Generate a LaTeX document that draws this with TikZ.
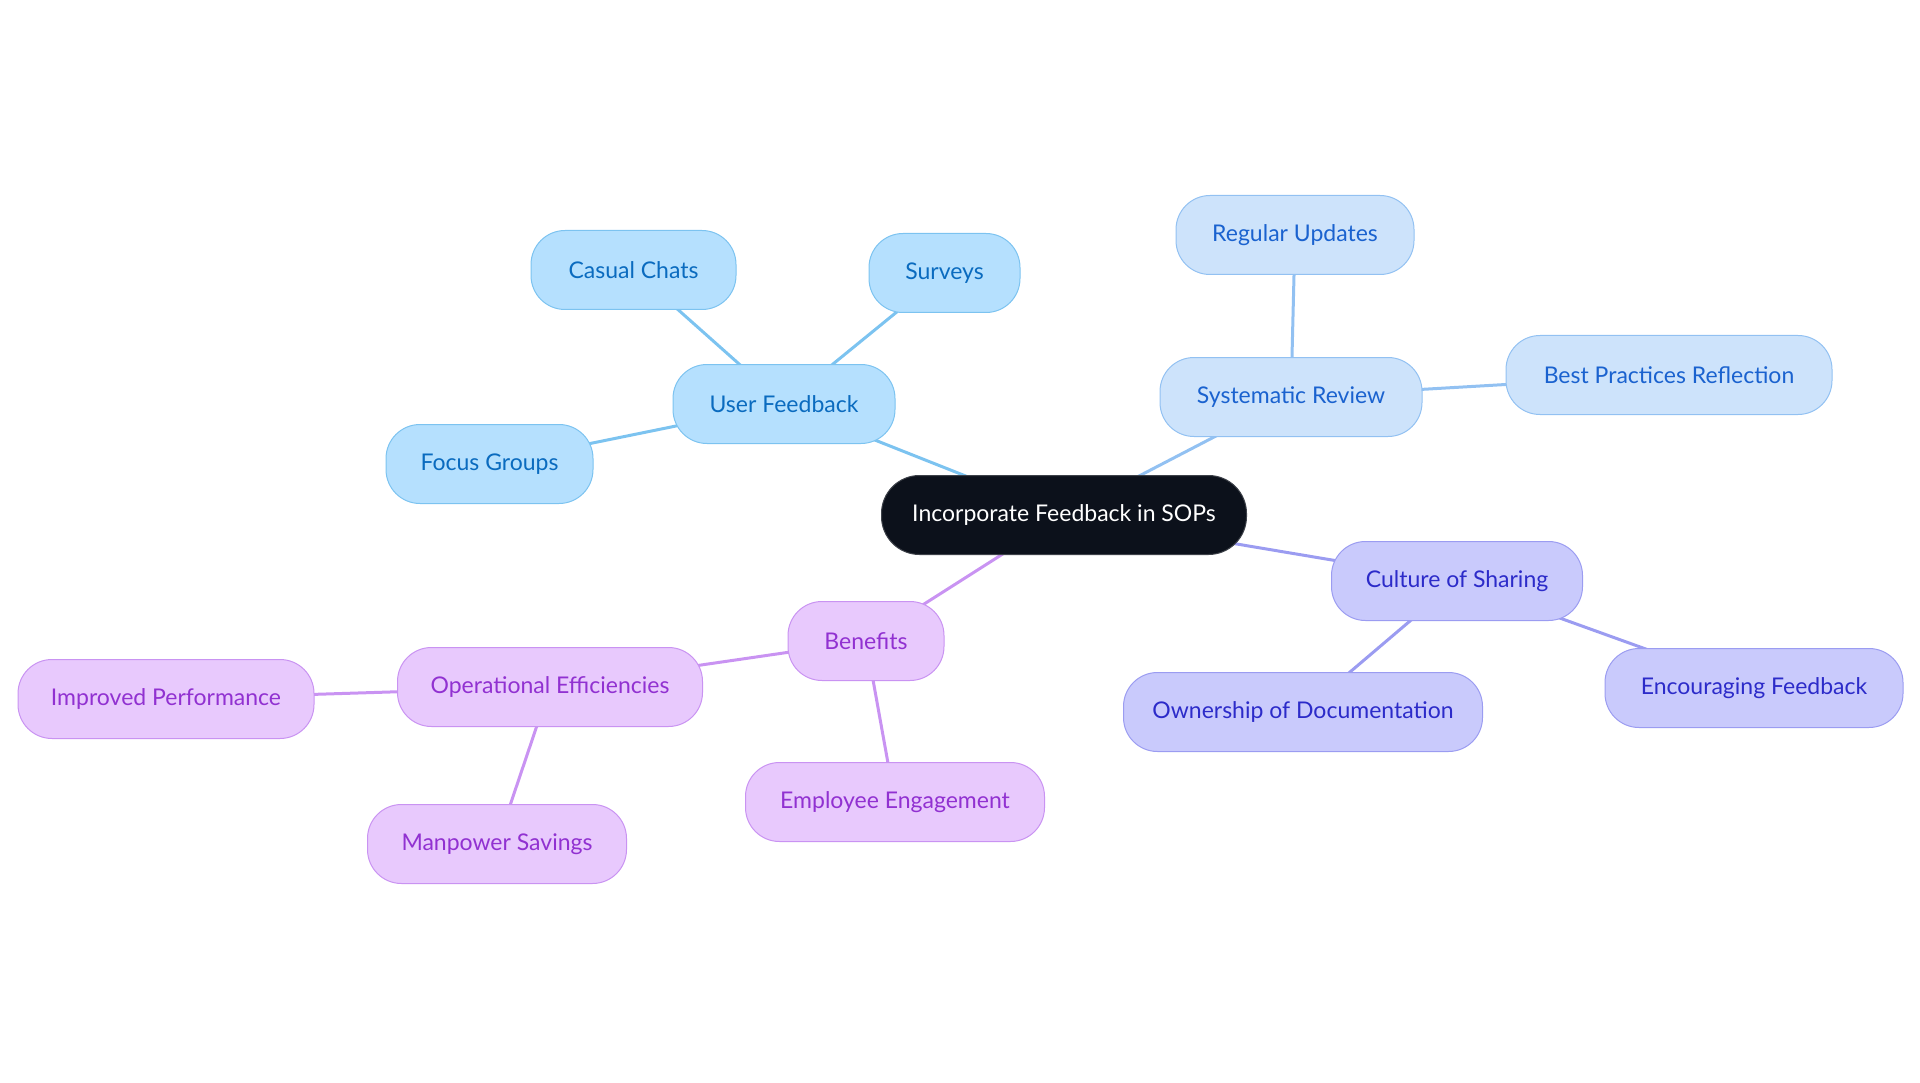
\documentclass[tikz,border=0pt]{standalone}
\usepackage{fontspec}
\setmainfont{Lato}
\usetikzlibrary{backgrounds}
\definecolor{ufFill}{HTML}{B5E0FE}
\definecolor{ufLine}{HTML}{7CC3F0}
\definecolor{ufText}{HTML}{0A6BBF}
\definecolor{srFill}{HTML}{CDE3FB}
\definecolor{srLine}{HTML}{92C1F2}
\definecolor{srText}{HTML}{1A62CF}
\definecolor{csFill}{HTML}{C9CAFC}
\definecolor{csLine}{HTML}{9B9CF1}
\definecolor{csText}{HTML}{2C2BC9}
\definecolor{bnFill}{HTML}{E8C9FD}
\definecolor{bnLine}{HTML}{C993F2}
\definecolor{bnText}{HTML}{9131D1}
\definecolor{rootFill}{HTML}{0C111B}
\tikzset{
  base/.style={rectangle, rounded corners=34pt, minimum height=79pt, line width=1pt,
    inner sep=0pt, font=\fontsize{23}{27}\selectfont},
  uf/.style={base, fill=ufFill, draw=ufLine, text=ufText},
  sr/.style={base, fill=srFill, draw=srLine, text=srText},
  cs/.style={base, fill=csFill, draw=csLine, text=csText},
  bn/.style={base, fill=bnFill, draw=bnLine, text=bnText},
  root/.style={base, rounded corners=38pt, fill=rootFill, draw=rootFill!80!white, text=white},
  ufedge/.style={draw=ufLine, line width=3pt},
  sredge/.style={draw=srLine, line width=3pt},
  csedge/.style={draw=csLine, line width=3pt},
  bnedge/.style={draw=bnLine, line width=3pt},
}
\begin{document}
\begin{tikzpicture}[x=1pt,y=-1pt]
\useasboundingbox (0,0) rectangle (1920,1083);
\node[root, minimum width=365pt] (root) at (1064,515) {Incorporate Feedback in SOPs};
\node[uf, minimum width=222pt] (ufb) at (784,404) {User Feedback};
\node[uf, minimum width=205pt] (chat) at (633.5,270) {Casual Chats};
\node[uf, minimum width=207pt] (focus) at (489.5,464) {Focus Groups};
\node[uf, minimum width=151pt] (surv) at (944.5,273) {Surveys};
\node[sr, minimum width=262pt] (sysr) at (1291,397) {Systematic Review};
\node[sr, minimum width=238pt] (regu) at (1295,235) {Regular Updates};
\node[sr, minimum width=326pt] (best) at (1669,375) {Best Practices Reflection};
\node[cs, minimum width=251pt] (cult) at (1457,581) {Culture of Sharing};
\node[cs, minimum width=359pt] (own) at (1303,712) {Ownership of Documentation};
\node[cs, minimum width=298pt] (enc) at (1754,688) {Encouraging Feedback};
\node[bn, minimum width=156pt] (ben) at (866,641) {Benefits};
\node[bn, minimum width=305pt] (oper) at (550,687) {Operational Efficiencies};
\node[bn, minimum width=296pt] (impr) at (166,699) {Improved Performance};
\node[bn, minimum width=259pt] (manp) at (497,844) {Manpower Savings};
\node[bn, minimum width=299pt] (empl) at (895,802) {Employee Engagement};
\begin{scope}[on background layer]
\draw[ufedge] (root.center) -- (ufb.center);
\draw[ufedge] (ufb.center) -- (chat.center);
\draw[ufedge] (ufb.center) -- (focus.center);
\draw[ufedge] (ufb.center) -- (surv.center);
\draw[sredge] (root.center) -- (sysr.center);
\draw[sredge] (sysr.center) -- (regu.center);
\draw[sredge] (sysr.center) -- (best.center);
\draw[csedge] (root.center) -- (cult.center);
\draw[csedge] (cult.center) -- (own.center);
\draw[csedge] (cult.center) -- (enc.center);
\draw[bnedge] (root.center) -- (ben.center);
\draw[bnedge] (ben.center) -- (oper.center);
\draw[bnedge] (ben.center) -- (empl.center);
\draw[bnedge] (oper.center) -- (impr.center);
\draw[bnedge] (oper.center) -- (manp.center);
\end{scope}
\end{tikzpicture}
\end{document}
